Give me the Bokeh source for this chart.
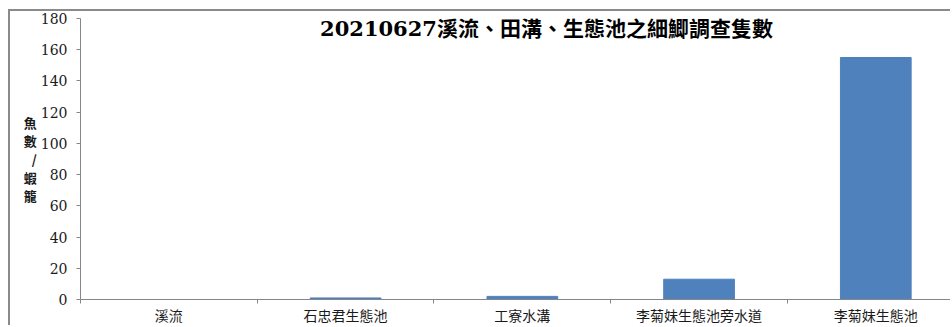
from bokeh.plotting import figure
from bokeh.models import (Range1d, LinearAxis, FixedTicker, Label, ColumnDataSource)
from bokeh.embed import file_html
from bokeh.resources import INLINE

categories = ["溪流", "石忠君生態池", "工寮水溝", "李菊妹生態池旁水道", "李菊妹生態池"]
counts = [0, 1, 2, 13, 155]
y_ticks = [0, 20, 40, 60, 80, 100, 120, 140, 160, 180]
title_text = "20210627溪流、田溝、生態池之細鯽調查隻數"
y_label_text = "魚\n數\n/\n蝦\n籠"

BAR = "#4F81BD"
AXIS = "#868686"
NUM_FONT = "'DejaVu Serif', 'Noto Sans CJK TC'"
CJK_FONT = "'Noto Sans CJK TC'"

n_cat = len(categories)
centers = [i + 0.5 for i in range(n_cat)]
edges = list(range(n_cat + 1))
src = ColumnDataSource(data=dict(x=centers, n=counts, cat=categories))

# the source image is cropped on the right: the last category slot is slightly cut
visible_slots = 4.934

p = figure(width=942, height=316,
           x_range=Range1d(0, visible_slots),
           y_range=Range1d(0, 180),
           output_backend="svg", toolbar_location=None,
           x_axis_location=None, y_axis_location=None,
           min_border_left=70, min_border_right=0,
           min_border_top=7, min_border_bottom=26)
p.styles = {"border-top": "2px solid #8a8a8a", "border-left": "2px solid #8a8a8a",
            "margin-left": "8px", "margin-top": "9px"}
p.outline_line_color = None
p.grid.visible = False
p.background_fill_color = "white"
p.border_fill_color = "white"

# y axis
yaxis = LinearAxis(ticker=FixedTicker(ticks=y_ticks))
yaxis.axis_line_color = AXIS
yaxis.major_tick_line_color = AXIS
yaxis.major_tick_out = 4
yaxis.major_tick_in = 0
yaxis.minor_tick_line_color = None
yaxis.major_label_standoff = 9
yaxis.major_label_text_font = NUM_FONT
yaxis.major_label_text_font_size = "14px"
yaxis.major_label_text_color = "#1a1a1a"
yaxis.axis_label = y_label_text
yaxis.axis_label_orientation = "horizontal"
yaxis.axis_label_standoff = 1
yaxis.axis_label_text_font = CJK_FONT
yaxis.axis_label_text_font_style = "bold"
yaxis.axis_label_text_font_size = "13px"
yaxis.axis_label_text_line_height = 0.96
yaxis.axis_label_text_color = "#1a1a1a"
p.add_layout(yaxis, "left")

# x axis: labels at bar centres, tick marks at category boundaries (minor ticks)
xaxis = LinearAxis(ticker=FixedTicker(ticks=centers, minor_ticks=edges),
                   major_label_overrides={c: name for c, name in zip(centers, categories)})
xaxis.axis_line_color = AXIS
xaxis.major_tick_line_color = None
xaxis.major_tick_out = 4
xaxis.major_tick_in = 0
xaxis.minor_tick_line_color = AXIS
xaxis.minor_tick_out = 4
xaxis.minor_tick_in = 0
xaxis.major_label_standoff = 1
xaxis.major_label_text_font = CJK_FONT
xaxis.major_label_text_font_size = "14px"
xaxis.major_label_text_color = "#1a1a1a"
p.add_layout(xaxis, "below")

p.vbar(x="x", top="n", width=0.4, source=src, fill_color=BAR, line_color=BAR)

title = Label(x=466, y=271, x_units="screen", y_units="screen", text=title_text,
              text_align="center", text_baseline="middle",
              text_font=NUM_FONT, text_font_style="bold", text_font_size="21px",
              text_color="#000000")
p.add_layout(title)

open("out.html", "w").write(file_html(p, INLINE))
